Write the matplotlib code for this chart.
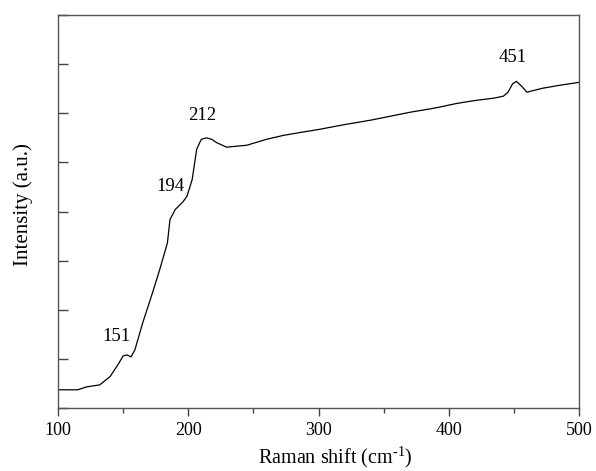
import matplotlib
matplotlib.use("Agg")
import matplotlib.pyplot as plt
from matplotlib.ticker import MultipleLocator

plt.rcParams['font.family'] = ['Liberation Serif', 'DejaVu Serif']
plt.rcParams['mathtext.fontset'] = 'custom'
plt.rcParams['mathtext.rm'] = 'Liberation Serif'

# spectrum (arbitrary intensity units)
shift = [100, 108, 115, 122, 132, 140, 146, 150, 153, 156, 159, 165, 172, 178,
         184, 186, 190, 196, 199, 203, 206.5, 210, 214, 218, 222, 229.5, 237,
         245, 260, 273, 286, 300, 320, 340, 355, 370, 390, 406, 420, 435, 442,
         445.5, 449, 452, 456, 460, 466, 472, 485, 500]
intensity = [0.37, 0.37, 0.37, 0.43, 0.47, 0.64, 0.88, 1.06, 1.08, 1.04, 1.18,
             1.73, 2.30, 2.81, 3.36, 3.84, 4.04, 4.20, 4.31, 4.65, 5.27, 5.47,
             5.50, 5.47, 5.40, 5.31, 5.33, 5.35, 5.47, 5.55, 5.61, 5.67, 5.77,
             5.86, 5.94, 6.02, 6.11, 6.20, 6.26, 6.31, 6.35, 6.43, 6.60, 6.65,
             6.55, 6.43, 6.47, 6.51, 6.57, 6.63]

peak_labels = ['151', '194', '212', '451']
peak_x = [145, 186.5, 211, 449]
peak_y = [1.45, 4.51, 5.96, 7.14]

fig = plt.figure(figsize=(5.96, 4.71), dpi=100)
ax = fig.add_axes([0.0973, 0.1338, 0.8742, 0.8342])

ax.plot(shift, intensity, color='black', lw=0.9)

for lab, px, py in zip(peak_labels, peak_x, peak_y):
    ax.text(px, py, lab, ha='center', va='center', fontsize=13.5)

ax.set_xlim(100, 500)
ax.set_ylim(0, 8)
ax.xaxis.set_major_locator(MultipleLocator(100))
ax.xaxis.set_minor_locator(MultipleLocator(50))
ax.yaxis.set_major_locator(MultipleLocator(1))
ax.set_yticklabels([])
ax.tick_params(axis='x', which='major', direction='out', length=6, width=1,
               labelsize=13, color='#444444', pad=4)
ax.tick_params(axis='x', which='minor', direction='out', length=3.5, width=1,
               color='#444444')
ax.tick_params(axis='y', which='major', direction='in', length=7, width=1,
               color='#444444')
ax.tick_params(top=False, right=False)

for sp in ax.spines.values():
    sp.set_color('#555555')
    sp.set_linewidth(1.0)

ax.set_xlabel(r'Raman shift (cm$^{\text{-1}}$)', fontsize=14.5)
ax.xaxis.label.set_va('baseline')
ax.xaxis.set_label_coords(0.532, -0.142)
ax.set_ylabel('Intensity (a.u.)', fontsize=15)
ax.yaxis.set_label_coords(-0.048, 0.517)

fig.savefig('out.png', dpi=100)
